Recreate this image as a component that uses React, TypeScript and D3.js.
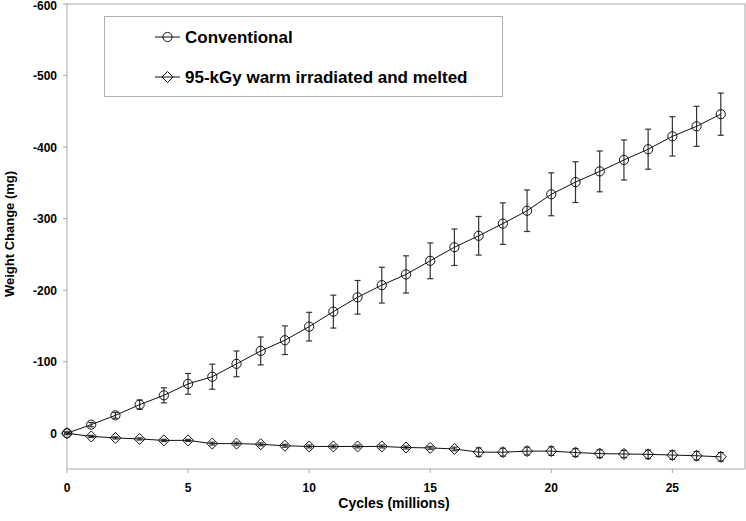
import React from 'react';
import * as d3 from 'd3';

// Cycles (millions)
const cycles = [0, 1, 2, 3, 4, 5, 6, 7, 8, 9, 10, 11, 12, 13, 14, 15, 16, 17, 18, 19, 20, 21, 22, 23, 24, 25, 26, 27];

// Weight change (mg) - conventional
const conventional = [0, -12, -25, -40, -53, -69, -79, -97, -115, -130, -149, -170, -190, -207, -222, -241, -260, -276, -293, -311, -334, -351, -366, -382, -397, -415, -429, -446];
const conventionalErr = [2, 3, 4, 6.5, 10.5, 14.5, 17.5, 18, 19.5, 20, 20, 23, 23.5, 25, 26, 25, 25.5, 27, 29, 29, 30, 28.5, 28.5, 28, 28, 27.5, 28, 29.5];

// Weight change (mg) - 95-kGy warm irradiated and melted
const irradiated = [0, 4.5, 6.5, 8, 10, 10, 14.5, 14.5, 15.5, 17.5, 18.5, 18.5, 18.5, 18.5, 20, 20.5, 22, 26.5, 26.5, 25, 25, 27, 28.5, 29, 29.5, 30.5, 31.5, 33];
const irradiatedErr = [1, 1.5, 1.5, 1.5, 1.5, 1.5, 2, 2, 2, 2, 2, 2, 2, 2, 2, 2, 2.5, 6, 5.5, 5.5, 6, 5.5, 5.5, 5, 6, 6, 6, 6];

const xTicks = [0, 5, 10, 15, 20, 25];
const yTicks = [0, -100, -200, -300, -400, -500, -600];

const legendLabels = ['Conventional', '95-kGy warm irradiated and melted'];

const W = 746;
const H = 521;
const plot = { left: 67, right: 745, top: 4, bottom: 469 };
const FONT = 'Arial, "Liberation Sans", Helvetica, sans-serif';

const x = d3.scaleLinear().domain([0, 28]).range([plot.left, plot.right]);
const y = d3.scaleLinear().domain([50, -600]).range([plot.bottom, plot.top]);

const line = d3.line<number>()
  .x((_, i) => x(cycles[i]))
  .y(d => y(d));

const Circle = ({ cx, cy }: { cx: number; cy: number }) => (
  <circle cx={cx} cy={cy} r={4.6} fill="none" stroke="#111" strokeWidth={1} />
);

const Diamond = ({ cx, cy }: { cx: number; cy: number }) => {
  const s = 5.5;
  return (
    <path
      d={`M${cx},${cy - s}L${cx + s},${cy}L${cx},${cy + s}L${cx - s},${cy}Z`}
      fill="none"
      stroke="#111"
      strokeWidth={1}
    />
  );
};

const ErrorBars = ({ values, errs }: { values: number[]; errs: number[] }) => (
  <g stroke="#333" strokeWidth={1.2}>
    {values.map((v, i) => {
      const cx = x(cycles[i]);
      const y1 = y(v - errs[i]);
      const y2 = y(v + errs[i]);
      return (
        <g key={i}>
          <line x1={cx} x2={cx} y1={y1} y2={y2} />
          <line x1={cx - 3} x2={cx + 3} y1={y1} y2={y1} />
          <line x1={cx - 3} x2={cx + 3} y1={y2} y2={y2} />
        </g>
      );
    })}
  </g>
);

export default function App() {
  return (
    <div style={{ position: 'fixed', top: 0, left: 0 }}>
      <svg width={W} height={H} style={{ display: 'block', background: '#fff' }} fontFamily={FONT}>
        {/* plot frame */}
        <rect
          x={plot.left}
          y={plot.top}
          width={plot.right - plot.left}
          height={plot.bottom - plot.top}
          fill="none"
          stroke="#a8a8a8"
          strokeWidth={1}
        />

        {/* y axis ticks */}
        {yTicks.map(t => (
          <g key={t}>
            <line x1={plot.left - 4} x2={plot.left} y1={y(t)} y2={y(t)} stroke="#a8a8a8" />
            <text
              x={plot.left - 10}
              y={Math.max(y(t) + 4.5, 10)}
              textAnchor="end"
              fontSize={12}
              fontWeight="bold"
              fill="#000"
            >
              {t}
            </text>
          </g>
        ))}

        {/* x axis ticks */}
        {xTicks.map(t => (
          <g key={t}>
            <line x1={x(t)} x2={x(t)} y1={plot.bottom} y2={plot.bottom + 4} stroke="#a8a8a8" />
            <text x={x(t)} y={plot.bottom + 23} textAnchor="middle" fontSize={12} fontWeight="bold" fill="#000">
              {t}
            </text>
          </g>
        ))}

        {/* axis titles */}
        <text x={394} y={508} textAnchor="middle" fontSize={14} fontWeight="bold" fill="#000">
          Cycles (millions)
        </text>
        <text
          transform="translate(14,234) rotate(-90)"
          textAnchor="middle"
          fontSize={13}
          fontWeight="bold"
          fill="#000"
        >
          Weight Change (mg)
        </text>

        {/* series */}
        <ErrorBars values={conventional} errs={conventionalErr} />
        <ErrorBars values={irradiated} errs={irradiatedErr} />
        <path d={line(conventional) ?? ''} fill="none" stroke="#111" strokeWidth={1} />
        <path d={line(irradiated) ?? ''} fill="none" stroke="#111" strokeWidth={1} />
        {conventional.map((v, i) => (
          <Circle key={i} cx={x(cycles[i])} cy={y(v)} />
        ))}
        {irradiated.map((v, i) => (
          <Diamond key={i} cx={x(cycles[i])} cy={y(v)} />
        ))}

        {/* legend */}
        <rect x={104.5} y={16.5} width={398} height={80} fill="#fff" stroke="#b0b0b0" strokeWidth={1} />
        {legendLabels.map((label, i) => {
          const ly = 37 + i * 40;
          return (
            <g key={label}>
              <line x1={155} x2={180} y1={ly} y2={ly} stroke="#111" strokeWidth={1} />
              {i === 0 ? <Circle cx={167.5} cy={ly} /> : <Diamond cx={167.5} cy={ly} />}
              <text x={185} y={ly + 6} fontSize={17} fontWeight="bold" fill="#000">
                {label}
              </text>
            </g>
          );
        })}
      </svg>
    </div>
  );
}
